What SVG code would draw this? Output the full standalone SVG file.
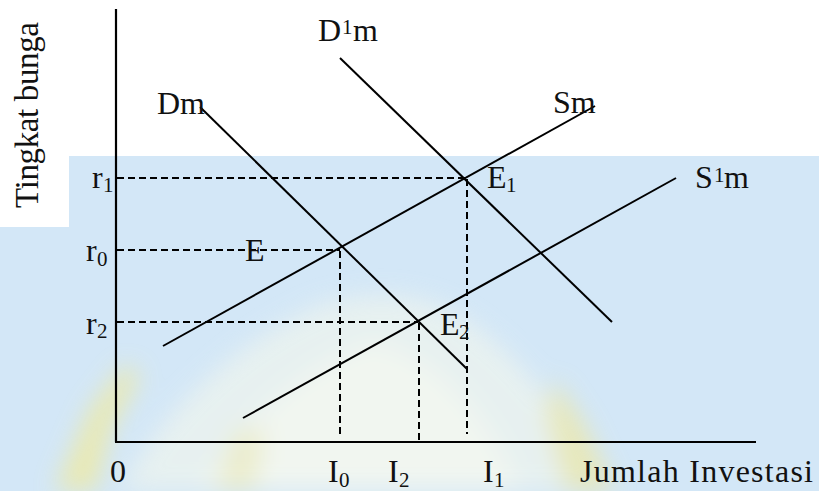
<svg xmlns="http://www.w3.org/2000/svg" width="819" height="491" viewBox="0 0 819 491">
  <defs>
    <filter id="blur" x="-20%" y="-20%" width="140%" height="140%">
      <feGaussianBlur stdDeviation="12"/>
    </filter>
    <style>
      text { font-family: "Liberation Serif", "Times New Roman", serif; font-size: 32px; fill: #111; }
      .s { font-size: 21px; }
      .big { font-size: 33px; }
      .ln { stroke: #000; stroke-width: 2; fill: none; }
      .ax { stroke: #000; stroke-width: 2.2; fill: none; }
      .dash { stroke: #000; stroke-width: 2; stroke-dasharray: 7 4; fill: none; }
    </style>
  </defs>

  <!-- background -->
  <g id="background">
    <rect x="0" y="0" width="819" height="491" fill="#ffffff"/>
    <path d="M69 156 H819 V491 H0 V227 H69 Z" fill="#d3e7f7"/>
    <g filter="url(#blur)" opacity="0.75">
      <path d="M120 491 C160 410 240 340 320 305 C370 290 410 292 450 310 C520 350 570 420 600 491 Z" fill="#eef4ee"/>
      <path d="M200 491 C240 420 300 370 370 340 C430 350 490 410 520 491 Z" fill="#fbfbee"/>
      <path d="M55 491 L90 410 L125 365 L140 375 L110 430 L95 491 Z" fill="#f2ea9a"/>
      <path d="M565 491 L545 410 L555 380 L585 425 L615 491 Z" fill="#eee8a6"/>
      <path d="M215 491 L235 430 L265 430 L255 491 Z" fill="#f4efbe"/>
    </g>
  </g>

  <!-- axis labels -->
  <g id="y-axis-label">
    <text class="big" x="-208" y="38" transform="rotate(-90)" textLength="186" lengthAdjust="spacing">Tingkat bunga</text>
  </g>
  <g id="x-axis-label">
    <text x="580" y="482" textLength="233" lengthAdjust="spacing">Jumlah Investasi</text>
  </g>

  <!-- connectors: axes, curves, guide lines -->
  <g id="connectors">
    <line class="ax" x1="116" y1="9" x2="116" y2="442"/>
    <line class="ax" x1="115" y1="442" x2="756" y2="442"/>

    <line id="Dm-line" class="ln" x1="200" y1="107" x2="467" y2="369"/>
    <line id="D1m-line" class="ln" x1="340" y1="58" x2="612" y2="322"/>
    <line id="Sm-line" class="ln" x1="163" y1="346" x2="595" y2="106"/>
    <line id="S1m-line" class="ln" x1="243" y1="418" x2="676" y2="178"/>

    <line class="dash" x1="117" y1="178" x2="466" y2="178"/>
    <line class="dash" x1="117" y1="250" x2="340" y2="250"/>
    <line class="dash" x1="117" y1="322" x2="418" y2="322"/>
    <line class="dash" x1="340" y1="251" x2="340" y2="436"/>
    <line class="dash" x1="419" y1="323" x2="419" y2="441"/>
    <line class="dash" x1="467" y1="179" x2="467" y2="434"/>
  </g>

  <!-- curve labels -->
  <g id="Dm"><text x="157" y="114">Dm</text></g>
  <g id="D1m">
    <text x="318" y="41">D</text><text class="s" x="342" y="34">1</text><text x="353" y="41">m</text>
  </g>
  <g id="Sm"><text x="553" y="113">Sm</text></g>
  <g id="S1m">
    <text x="695" y="188">S</text><text class="s" x="714" y="182">1</text><text x="724" y="188">m</text>
  </g>

  <!-- equilibrium labels -->
  <g id="E"><text x="245" y="261">E</text></g>
  <g id="E1"><text x="487" y="188">E</text><text class="s" x="506" y="192">1</text></g>
  <g id="E2"><text x="440" y="335">E</text><text class="s" x="459" y="339">2</text></g>

  <!-- rate labels -->
  <g id="r1"><text x="92" y="188">r</text><text class="s" x="103" y="192">1</text></g>
  <g id="r0"><text x="86" y="261">r</text><text class="s" x="97" y="266">0</text></g>
  <g id="r2"><text x="86" y="334">r</text><text class="s" x="97" y="338">2</text></g>

  <!-- investment labels -->
  <g id="origin"><text x="110" y="482">0</text></g>
  <g id="I0"><text x="328" y="482">I</text><text class="s" x="339" y="487">0</text></g>
  <g id="I2"><text x="388" y="482">I</text><text class="s" x="399" y="487">2</text></g>
  <g id="I1"><text x="483" y="482">I</text><text class="s" x="494" y="487">1</text></g>
</svg>
